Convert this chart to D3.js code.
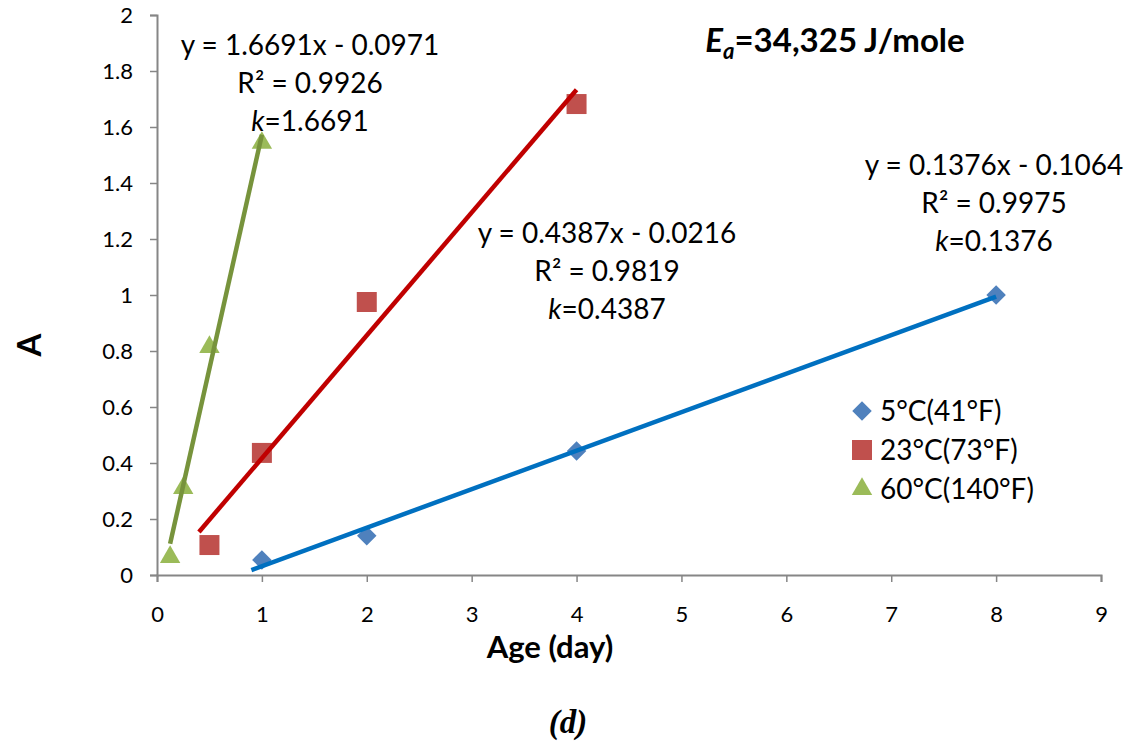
<!DOCTYPE html>
<html>
<head>
<meta charset="utf-8">
<script src="https://cdn.jsdelivr.net/npm/d3@7"></script>
<style>
  html, body { margin: 0; padding: 0; background: #fff; }
  svg text { font-family: Lato, "Open Sans", sans-serif; fill: #000; }
</style>
</head>
<body>
<svg id="chart" width="1135" height="744"></svg>
<script>
// Absorbance A versus age (days) at three curing temperatures
const seriesNames = ["5°C(41°F)", "23°C(73°F)", "60°C(140°F)"];
const ageCold = [1, 2, 4, 8];
const aCold = [0.054, 0.14, 0.443, 1.0];
const ageRoom = [0.5, 1, 2, 4];
const aRoom = [0.107, 0.436, 0.975, 1.682];
const ageHot = [0.125, 0.25, 0.5, 1];
const aHot = [0.064, 0.31, 0.814, 1.543];

// Linear fits: slope, intercept, R², and the x-range each fit line spans
const slopes = [0.1376, 0.4387, 1.6691];
const intercepts = [-0.1064, -0.0216, -0.0971];
const rSquared = ["0.9975", "0.9819", "0.9926"];
const fitStart = [0.9, 0.4, 0.125];
const fitEnd = [8, 4, 1];

const xTicks = [0, 1, 2, 3, 4, 5, 6, 7, 8, 9];
const yTicks = [0, 0.2, 0.4, 0.6, 0.8, 1, 1.2, 1.4, 1.6, 1.8, 2];

const markerColors = ["#4F81BD", "#C0504D", "#9BBB59"];
const lineColors = ["#0070C0", "#C00000", "#77933C"];
// diamond = square turned 45°
const symbols = [d3.symbolSquare, d3.symbolSquare, d3.symbolTriangle];
const symSizes = [190, 400, 180];
const symRotate = [45, 0, 0];

const svg = d3.select("#chart");
const x = d3.scaleLinear().domain([0, 9]).range([157, 1101]);
const y = d3.scaleLinear().domain([0, 2]).range([575, 15]);
const axisColor = "#868686";

// Axes
const yAxis = svg.append("g").attr("transform", `translate(${x(0)},0)`)
  .call(d3.axisLeft(y).tickValues(yTicks).tickSize(7).tickPadding(17)
    .tickFormat(d => d === 0 ? "0" : d3.format("~g")(d)));
const xAxis = svg.append("g").attr("transform", `translate(0,${y(0)})`)
  .call(d3.axisBottom(x).tickValues(xTicks).tickSize(7).tickPadding(24).tickFormat(d3.format("d")));
[yAxis, xAxis].forEach(g => {
  g.select(".domain").attr("stroke", axisColor).attr("stroke-width", 2);
  g.selectAll(".tick line").attr("stroke", axisColor).attr("stroke-width", 1.5);
  g.selectAll(".tick text").style("font-size", "22px").attr("fill", "#000");
});

// Markers
const series = [
  ageCold.map((a, i) => [a, aCold[i]]),
  ageRoom.map((a, i) => [a, aRoom[i]]),
  ageHot.map((a, i) => [a, aHot[i]])
];
series.forEach((pts, s) => {
  svg.append("g").selectAll("path").data(pts).join("path")
    .attr("d", d3.symbol().type(symbols[s]).size(symSizes[s]))
    .attr("transform", d => `translate(${x(d[0])},${y(d[1])}) rotate(${symRotate[s]})`)
    .attr("fill", markerColors[s]);
});

// Trend lines
const line = d3.line().x(d => x(d[0])).y(d => y(d[1]));
slopes.forEach((m, s) => {
  const pts = [fitStart[s], fitEnd[s]].map(v => [v, m * v + intercepts[s]]);
  svg.append("path").datum(pts).attr("d", line)
    .attr("stroke", lineColors[s]).attr("stroke-width", 4.5).attr("fill", "none");
});

// Fit annotations
const notePos = [[994, 175], [607, 243], [310, 55]];
slopes.forEach((m, s) => {
  const g = svg.append("g").attr("text-anchor", "middle").style("font-size", "28px");
  const [cx, cy] = notePos[s];
  const b = intercepts[s];
  g.append("text").attr("x", cx).attr("y", cy)
    .text(`y = ${m.toFixed(4)}x ${b < 0 ? "-" : "+"} ${Math.abs(b).toFixed(4)}`);
  g.append("text").attr("x", cx).attr("y", cy + 38).text(`R² = ${rSquared[s]}`);
  const t = g.append("text").attr("x", cx).attr("y", cy + 76);
  t.append("tspan").style("font-style", "italic").text("k");
  t.append("tspan").text(`=${m.toFixed(4)}`);
});

// Activation energy
const ea = svg.append("text").attr("x", 835).attr("y", 52).attr("text-anchor", "middle")
  .style("font-size", "33px").style("font-weight", "bold");
ea.append("tspan").style("font-style", "italic").text("E");
ea.append("tspan").style("font-style", "italic").style("font-size", "22px").attr("dy", 7).text("a");
ea.append("tspan").attr("dy", -7).text("=34,325 J/mole");

// Legend
const legend = svg.append("g");
seriesNames.forEach((name, s) => {
  const ly = 411 + s * 39;
  legend.append("path")
    .attr("d", d3.symbol().type(symbols[s]).size(symSizes[s]))
    .attr("transform", `translate(862,${ly}) rotate(${symRotate[s]})`)
    .attr("fill", markerColors[s]);
  legend.append("text").attr("x", 880).attr("y", ly + 10).style("font-size", "28px").text(name);
});

// Axis titles
svg.append("text").attr("x", 550).attr("y", 658).attr("text-anchor", "middle")
  .style("font-size", "31px").style("font-weight", "bold").text("Age (day)");
svg.append("text").attr("transform", "translate(41,345) rotate(-90)").attr("text-anchor", "middle")
  .style("font-size", "33px").style("font-weight", "bold").text("A");

// Panel label
svg.append("text").attr("x", 568).attr("y", 733).attr("text-anchor", "middle")
  .style("font-family", "'Liberation Serif', serif").style("font-size", "33px")
  .style("font-weight", "bold").style("font-style", "italic").text("(d)");
</script>
</body>
</html>
